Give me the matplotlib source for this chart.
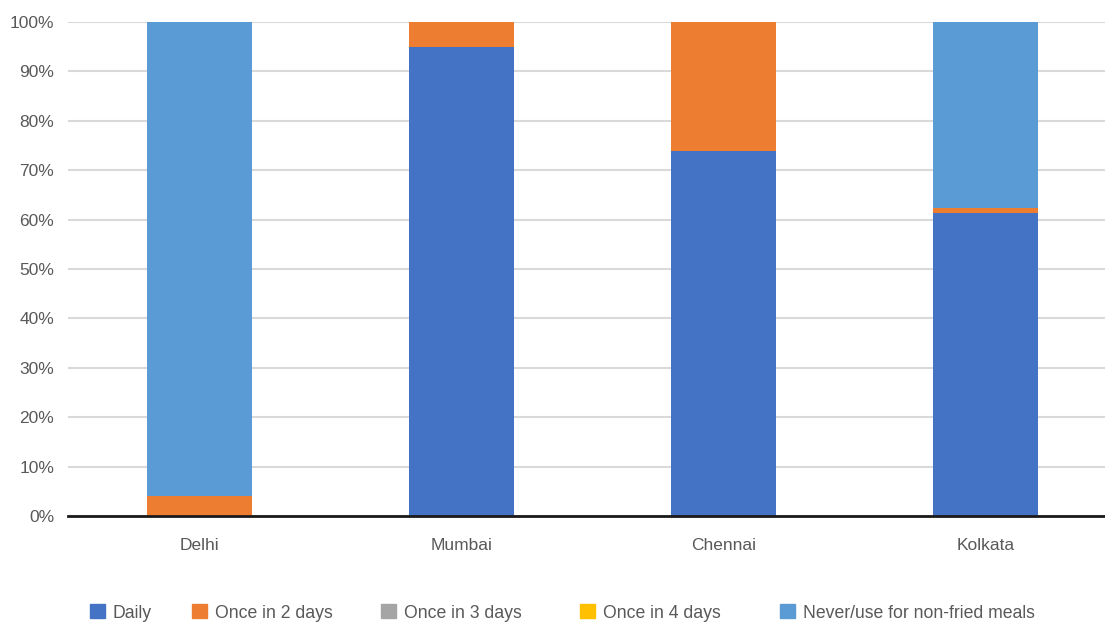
import matplotlib.pyplot as plt
from matplotlib.patches import Patch
import numpy as np

cities = ['Delhi', 'Mumbai', 'Chennai', 'Kolkata']
daily = [0.0, 94.9, 73.9, 61.4]
once_2 = [4.0, 5.1, 26.1, 1.0]
once_3 = [0.0, 0.0, 0.0, 0.0]
once_4 = [0.0, 0.0, 0.0, 0.0]
never = [96.0, 0.0, 0.0, 37.6]

series = [
    ('Daily', daily, '#4472C4'),
    ('Once in 2 days', once_2, '#ED7D31'),
    ('Once in 3 days', once_3, '#A5A5A5'),
    ('Once in 4 days', once_4, '#FFC000'),
    ('Never/use for non-fried meals', never, '#5B9BD5'),
]

plt.rcParams['font.family'] = ['Liberation Sans', 'DejaVu Sans']

fig = plt.figure(figsize=(11.05, 6.26), dpi=100)
ax = fig.add_axes([0.0615, 0.1757, 1 - 0.0615, 0.9649 - 0.1757])

x = np.arange(len(cities))
bottom = np.zeros(len(cities))
for name, vals, color in series:
    vals = np.array(vals)
    ax.bar(x, vals, width=0.4, bottom=bottom, color=color, label=name, zorder=3)
    bottom += vals

ax.set_xlim(-0.502, 3.456)
ax.set_ylim(0, 100)
ax.set_yticks(np.arange(0, 101, 10))
ax.set_yticklabels([f'{v}%' for v in range(0, 101, 10)])
ax.set_xticks(x)
ax.set_xticklabels(cities)
ax.grid(axis='y', color='#D9D9D9', linewidth=1.5, zorder=0)
for s in ['top', 'right', 'left']:
    ax.spines[s].set_visible(False)
ax.spines['bottom'].set_color('#1a1a1a')
ax.spines['bottom'].set_linewidth(2)
ax.spines['bottom'].set_zorder(4)
ax.tick_params(axis='both', length=0, labelsize=12.5, colors='#595959')
ax.tick_params(axis='x', pad=16)
ax.tick_params(axis='y', pad=10)

# legend entries placed one by one, like the spreadsheet layout
legend_x = [90, 192, 381, 580, 780]
for (name, vals, color), lx in zip(series, legend_x):
    fig.legend(handles=[Patch(color=color)], labels=[name], loc='center left',
               bbox_to_anchor=(lx / 1105, 1 - 613 / 626), frameon=False,
               fontsize=12.7, handlelength=0.85, handleheight=0.85, handletextpad=0.45,
               borderpad=0, borderaxespad=0, labelcolor='#595959')

fig.savefig('out.png', dpi=100)
